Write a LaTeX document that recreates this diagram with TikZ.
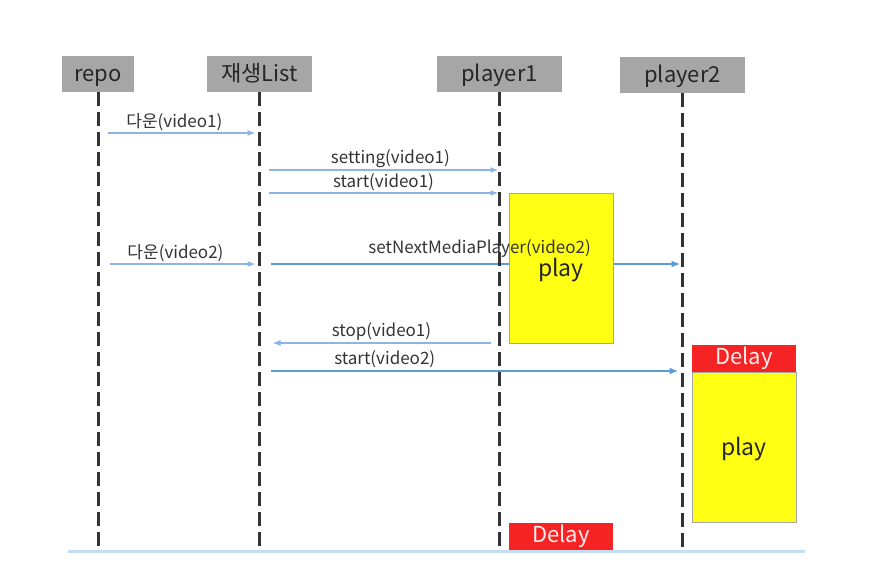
\documentclass[tikz,border=0pt]{standalone}
\usepackage{fontspec}
\setmainfont{Noto Sans CJK KR}
\definecolor{headgray}{RGB}{166, 166, 166}
\definecolor{lifegray}{RGB}{50, 50, 55}
\definecolor{msgblue}{RGB}{141, 180, 226}
\definecolor{callblue}{RGB}{91, 155, 213}
\definecolor{baseblue}{RGB}{197, 221, 240}
\definecolor{playyellow}{RGB}{255, 255, 20}
\definecolor{delayred}{RGB}{245, 35, 35}
\usetikzlibrary{arrows.meta, positioning, calc}

\tikzset{
  headbox/.style={fill=headgray, minimum height=18pt, inner sep=0pt, text height=9pt, text depth=2pt, font=\fontsize{11}{13}\selectfont, text=black!85},
  lifeline/.style={draw=lifegray, line width=1.5pt, dash pattern=on 7pt off 3pt},
  msg/.style={draw=msgblue, line width=0.6pt, -{Latex[length=4pt, width=3pt]}},
  call/.style={draw=callblue, line width=1.2pt, -{Latex[length=4.5pt, width=3.5pt]}},
  msglabel/.style={font=\fontsize{8.5}{10}\selectfont, text=black!80, inner sep=1pt},
  playbox/.style={fill=playyellow, draw=black!35, line width=0.4pt, minimum width=52pt, minimum height=75pt, inner sep=0pt, text height=8pt, text depth=0pt, font=\fontsize{11.5}{13}\selectfont, text=black!85},
  delaybox/.style={fill=delayred, minimum width=52pt, minimum height=13.5pt, inner sep=0pt, font=\fontsize{11}{13}\selectfont, text=red!8}
}

\begin{document}
\begin{tikzpicture}[x=0.5pt, y=-0.5pt]
  \useasboundingbox (0,0) rectangle (871,568);

  % Participants
  \node[headbox, minimum width=36pt] (repo) at (98,74) {repo};
  \node[headbox, minimum width=52.5pt] (list) at (259.5,74) {재생List};
  \node[headbox, minimum width=62.5pt] (pone) at (499.5,74) {player1};
  \node[headbox, minimum width=62.5pt] (ptwo) at (682.5,75) {player2};

  % Ends of the lifelines
  \coordinate (repoend) at (repo.south |- 0,550);
  \coordinate (listend) at (list.south |- 0,550);
  \coordinate (poneend) at (pone.south |- 0,550);
  \coordinate (ptwoend) at (ptwo.south |- 0,550);

  % Base line
  \coordinate (basel) at (68,551);
  \coordinate (baser) at (805,551);
  \draw[draw=baseblue, line width=1.5pt] (basel) -- (baser);

  % Messages
  \draw[msg] ($(repo.south |- 0,133)+(10,0)$) -- node[msglabel, above=0pt, pos=0.45] {다운(video1)} ($(list.south |- 0,133)+(-4,0)$);
  \draw[msg] ($(list.south |- 0,170)+(9,0)$) -- node[msglabel, above=0pt, pos=0.53] {setting(video1)} ($(pone.south |- 0,170)+(-1,0)$);
  \draw[msg] ($(list.south |- 0,193)+(9,0)$) -- node[msglabel, above=0pt, pos=0.5] {start(video1)} ($(pone.south |- 0,193)+(-1,0)$);
  \draw[msg] ($(repo.south |- 0,264)+(12,0)$) -- node[msglabel, above=0pt, pos=0.45] {다운(video2)} ($(list.south |- 0,264)+(-4,0)$);
  \draw[call] ($(list.south |- 0,264)+(11,0)$) coordinate (setl) -- ($(ptwo.south |- 0,264)+(-2,0)$) coordinate (setr);
  \draw[msg] ($(pone.south |- 0,343)+(-9,0)$) -- node[msglabel, above=0pt, pos=0.5] {stop(video1)} ($(list.south |- 0,343)+(13,0)$);
  \draw[call] ($(list.south |- 0,371)+(11,0)$) -- node[msglabel, above=0pt, pos=0.28] {start(video2)} ($(ptwo.south |- 0,371)+(-4,0)$);

  % Activity boxes
  \node[playbox] (playone) at (561,268) {play};
  \node[delaybox] (delaytwo) at (744,358.5) {Delay};
  \node[playbox, below=0pt of delaytwo] (playtwo) {play};
  \node[delaybox] (delayone) at (561,536) {Delay};

  \node[msglabel, above=2pt] at ($(setl)!0.51!(setr)$) {setNextMediaPlayer(video2)};

  % Lifelines
  \draw[lifeline] (repo.south) -- (repoend);
  \draw[lifeline] (list.south) -- (listend);
  \draw[lifeline] (pone.south) -- (poneend);
  \draw[lifeline] (ptwo.south) -- (ptwoend);
\end{tikzpicture}
\end{document}
